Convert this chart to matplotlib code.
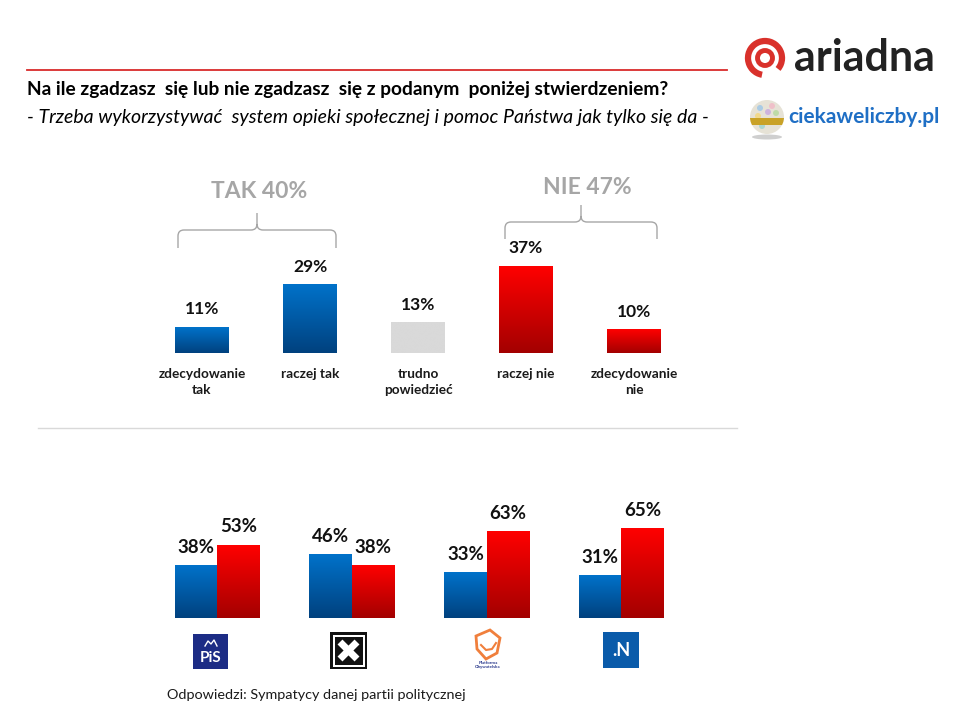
import numpy as np
import matplotlib
matplotlib.use('Agg')
import matplotlib.pyplot as plt
from matplotlib.colors import LinearSegmentedColormap
from matplotlib.patches import Arc, Circle, Rectangle, Polygon, Ellipse, PathPatch
from matplotlib.path import Path

plt.rcParams['font.family'] = ['Lato', 'DejaVu Sans']

# dane - wykres gorny
kategorie = ['zdecydowanie\ntak', 'raczej tak', 'trudno\npowiedzieć', 'raczej nie', 'zdecydowanie\nnie']
wartosci = [11, 29, 13, 37, 10]
kolory_kat = ['blue', 'blue', 'gray', 'red', 'red']
tak_suma = 40
nie_suma = 47

# dane - wykres dolny (sympatycy partii)
partie = ['PiS', 'Kukiz15', 'PO', 'Nowoczesna']
tak_partie = [38, 46, 33, 31]
nie_partie = [53, 38, 63, 65]

W, H = 960, 720
fig = plt.figure(figsize=(9.6, 7.2), dpi=100)

bg = fig.add_axes([0, 0, 1, 1], zorder=0)
bg.set_xlim(0, W)
bg.set_ylim(H, 0)
bg.axis('off')


def px_axes(x0, y0, x1, y1):
    a = fig.add_axes([x0 / W, 1 - y1 / H, (x1 - x0) / W, (y1 - y0) / H], zorder=2)
    a.patch.set_alpha(0)
    for s in a.spines.values():
        s.set_visible(False)
    a.set_yticks([])
    return a


grad = np.linspace(0, 1, 256).reshape(-1, 1)
cmaps = {
    'blue': LinearSegmentedColormap.from_list('niebieski', ['#00417E', '#0072CA']),
    'red': LinearSegmentedColormap.from_list('czerwony', ['#A30000', '#FF0000']),
    'gray': LinearSegmentedColormap.from_list('szary', ['#D9D9D9', '#D9D9D9']),
}


def gradient(ax, bar, kolor):
    x, y = bar.get_x(), bar.get_y()
    w, h = bar.get_width(), bar.get_height()
    bar.set_facecolor('none')
    ax.imshow(grad, cmap=cmaps[kolor], extent=(x, x + w, y, y + h),
              origin='lower', aspect='auto', zorder=2)


# --- naglowek ---
bg.plot([27, 727], [70, 70], color='#D92B2B', lw=1.3)
bg.text(27, 89, 'Na ile zgadzasz  się lub nie zgadzasz  się z podanym  poniżej stwierdzeniem?',
        fontsize=13.8, fontweight='bold', va='center', ha='left', color='#000000')
bg.text(27, 117, '- Trzeba wykorzystywać  system opieki społecznej i pomoc Państwa jak tylko się da -',
        fontsize=14, style='italic', va='center', ha='left', color='#000000')

# logo ariadna
bg.add_patch(Arc((765, 58), 34, 34, theta1=100, theta2=400, lw=4.5, color='#D9312B'))
bg.add_patch(Circle((765, 58), 7.5, fill=False, lw=3.5, color='#D9312B'))
bg.text(794, 58, 'ariadna', fontsize=31, fontweight='bold', color='#222222',
        va='center', ha='left')

# logo ciekaweliczby.pl
bg.add_patch(Ellipse((767, 137), 30, 5, color='#CFCFCF', lw=0))
glob = Circle((767, 117), 17, color='#E6E2D6', lw=0)
bg.add_patch(glob)
for (gx, gy, gc) in [(760, 108, '#9BC6E8'), (772, 106, '#F2B8C6'), (776, 113, '#B5D99C'),
                     (758, 116, '#F5D77A'), (768, 112, '#C8A8E0'), (762, 126, '#9DD3D0')]:
    bg.add_patch(Circle((gx, gy), 3, color=gc, lw=0, alpha=0.8))
pas = Rectangle((748, 118), 40, 7, color='#C9A227', lw=0)
bg.add_patch(pas)
pas.set_clip_path(glob)
bg.text(788, 117, 'ciekaweliczby.pl', fontsize=15, fontweight='bold', color='#1F6FC5',
        va='center', ha='left')

# --- wykres gorny ---
ax1 = px_axes(148, 212, 688, 353)
x1 = np.arange(len(wartosci))
slupki = ax1.bar(x1, wartosci, width=0.5, lw=0)
for b, k in zip(slupki, kolory_kat):
    gradient(ax1, b, k)
for xi, v in zip(x1, wartosci):
    ax1.annotate(f'{v}%', (xi, v), xytext=(0, 7), textcoords='offset points',
                 ha='center', va='bottom', fontsize=12.5, fontweight='bold', color='#111111')
ax1.set_xlim(-0.5, 4.5)
ax1.set_ylim(0, 60)
ax1.set_xticks(x1, kategorie, fontsize=9.8, fontweight='bold', color='#1A1A1A', linespacing=1.35)
ax1.tick_params(axis='x', length=0, pad=11)

# klamry TAK / NIE
def klamra(x0, x1_, y, ydol, ygora):
    xm = (x0 + x1_) / 2
    r = 6
    verts = [(x0, ydol), (x0, y + r), (x0, y), (x0 + r, y), (xm - r, y), (xm, y), (xm, y - r),
             (xm, ygora), (xm, y - r), (xm, y), (xm + r, y), (x1_ - r, y), (x1_, y), (x1_, y + r),
             (x1_, ydol)]
    codes = [Path.MOVETO, Path.LINETO, Path.CURVE3, Path.CURVE3, Path.LINETO, Path.CURVE3, Path.CURVE3,
             Path.LINETO, Path.MOVETO, Path.CURVE3, Path.CURVE3, Path.LINETO, Path.CURVE3, Path.CURVE3,
             Path.LINETO]
    bg.add_patch(PathPatch(Path(verts, codes), fill=False, edgecolor='#A6A6A6', lw=1))

klamra(178, 336, 230, 248, 213)
klamra(505, 657, 222, 239, 205)
bg.text(259, 192, f'TAK {tak_suma}%', fontsize=16.5, fontweight='bold', color='#A6A6A6',
        ha='center', va='center')
bg.text(587, 187, f'NIE {nie_suma}%', fontsize=16.5, fontweight='bold', color='#A6A6A6',
        ha='center', va='center')

# separator
bg.plot([38, 737], [428, 428], color='#D9D9D9', lw=1)

# --- wykres dolny ---
ax2 = px_axes(149.6, 508, 688.9, 618)
x2 = np.arange(len(partie))
w2 = 0.315
s_tak = ax2.bar(x2 - w2 / 2, tak_partie, width=w2, lw=0)
s_nie = ax2.bar(x2 + w2 / 2, nie_partie, width=w2, lw=0)
for b in s_tak:
    gradient(ax2, b, 'blue')
for b in s_nie:
    gradient(ax2, b, 'red')
for xi, v in zip(x2 - w2 / 2, tak_partie):
    ax2.annotate(f'{v}%', (xi, v), xytext=(0, 7), textcoords='offset points',
                 ha='center', va='bottom', fontsize=13.5, fontweight='bold', color='#111111')
for xi, v in zip(x2 + w2 / 2, nie_partie):
    ax2.annotate(f'{v}%', (xi, v), xytext=(0, 7), textcoords='offset points',
                 ha='center', va='bottom', fontsize=13.5, fontweight='bold', color='#111111')
ax2.set_xlim(-0.5, 3.5)
ax2.set_ylim(0, 80)
ax2.set_xticks([])

# logotypy partii
bg.add_patch(Rectangle((193, 634), 35, 35, color='#1C2C85', lw=0))
bg.text(210.5, 658, 'PiS', fontsize=11, fontweight='bold', color='white', ha='center', va='center')
bg.plot([205, 208, 211, 214, 217], [646, 641, 644, 640, 646], color='white', lw=1)

bg.add_patch(Rectangle((330, 632), 37, 37, color='#111111', lw=0))
bg.add_patch(Rectangle((332.5, 634.5), 32, 32, color='white', lw=0))
bg.add_patch(Rectangle((334.5, 636.5), 28, 28, color='#111111', lw=0))
bg.plot([340, 357], [642, 659], color='white', lw=5, solid_capstyle='butt')
bg.plot([357, 340], [642, 659], color='white', lw=5, solid_capstyle='butt')

bg.add_patch(Polygon([(476, 636), (490, 630), (500, 638), (497, 653), (486, 659), (477, 649)],
                     closed=True, fill=False, edgecolor='#F07F3C', lw=2))
bg.plot([481, 486, 492, 496], [645, 650, 649, 643], color='#F07F3C', lw=1.5)
bg.text(488, 665, 'Platforma\nObywatelska', fontsize=3.2, fontweight='bold', color='#2B3A8C',
        ha='center', va='center', linespacing=1.0)

bg.add_patch(Rectangle((603, 632), 36, 36, color='#0A5BAA', lw=0))
bg.text(621, 650, '.N', fontsize=13, fontweight='bold', color='white', ha='center', va='center')

bg.text(167, 695, 'Odpowiedzi: Sympatycy danej partii politycznej', fontsize=10.4,
        color='#1A1A1A', ha='left', va='center')

fig.savefig('out.png', dpi=100)
